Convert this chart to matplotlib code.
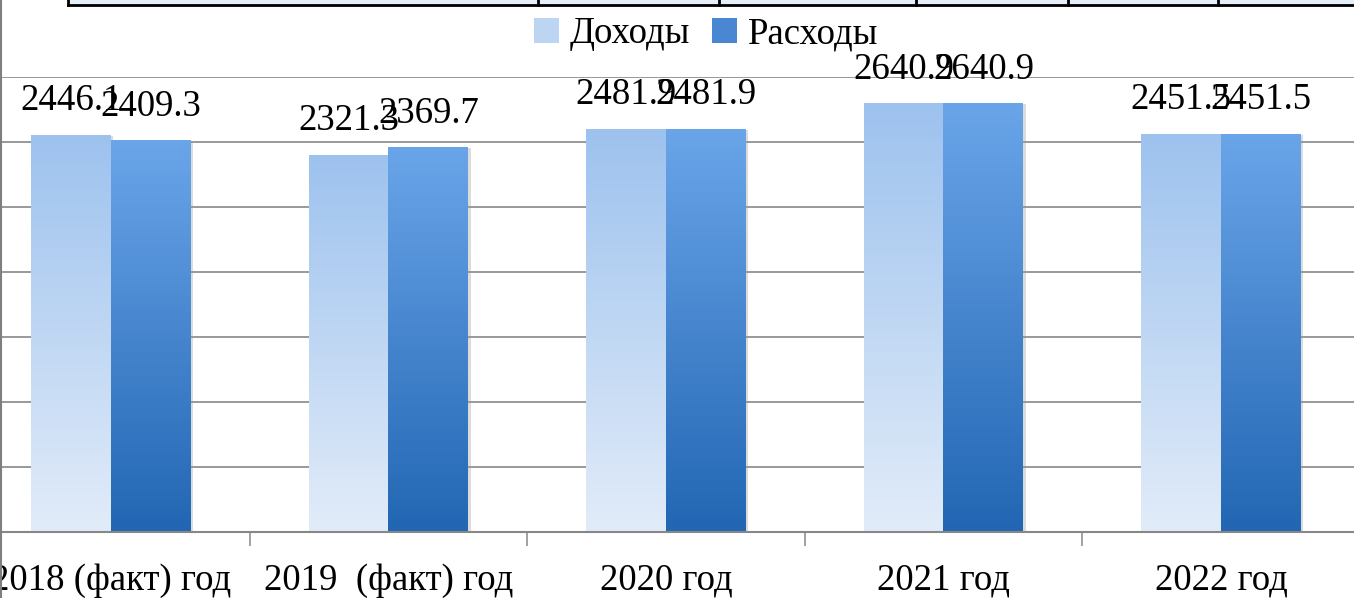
import numpy as np
import matplotlib
matplotlib.use("Agg")
import matplotlib.pyplot as plt
from matplotlib.colors import LinearSegmentedColormap
from matplotlib.patches import Patch
from matplotlib.lines import Line2D
import matplotlib.patheffects as pe

plt.rcParams['font.family'] = ['Liberation Serif', 'DejaVu Serif']

# === Data ===
categories = ['2018 (факт) год', '2019  (факт) год', '2020 год', '2021 год', '2022 год']
income = [2446.1, 2321.3, 2481.9, 2640.9, 2451.5]    # Доходы
expenses = [2409.3, 2369.7, 2481.9, 2640.9, 2451.5]  # Расходы
series_names = ['Доходы', 'Расходы']

# gradient colours (top, bottom)
grad_income = ('#9DC2EE', '#E2ECF9')
grad_expense = ('#6AA5E9', '#2266B3')
grid_col = '#878787'

W, H, DPI = 1354, 598, 100
fig = plt.figure(figsize=(W / DPI, H / DPI), dpi=DPI)
fig.patch.set_facecolor('white')

# plot area (partly cropped on both sides, like the screenshot)
ax = fig.add_axes([-27.75 / W, 66 / H, 1387.5 / W, 455 / H])
ax.set_facecolor('none')

x = np.arange(len(categories))
bw = 0.288

bars_inc = ax.bar(x - bw / 2, income, width=bw, color=grad_income[0], zorder=2,
                  path_effects=[pe.SimplePatchShadow(offset=(1.5, -1), shadow_rgbFace='#999999', alpha=0.35), pe.Normal()])
bars_exp = ax.bar(x + bw / 2, expenses, width=bw, color=grad_expense[0], zorder=2,
                  path_effects=[pe.SimplePatchShadow(offset=(1.5, -1), shadow_rgbFace='#999999', alpha=0.35), pe.Normal()])

# vertical gradient fill for every bar
grad = np.linspace(1, 0, 256).reshape(-1, 1)
for bars, (ctop, cbot) in [(bars_inc, grad_income), (bars_exp, grad_expense)]:
    cmap = LinearSegmentedColormap.from_list('g', [cbot, ctop])
    for b in bars:
        x0, w, h = b.get_x(), b.get_width(), b.get_height()
        im = ax.imshow(grad, extent=[x0, x0 + w, 0, h], aspect='auto', cmap=cmap,
                       vmin=0, vmax=1, zorder=2.5, origin='upper')
        im.set_clip_path(b)

# value labels
for bars, vals in [(bars_inc, income), (bars_exp, expenses)]:
    for b, v in zip(bars, vals):
        ax.annotate(f'{v:.1f}', (b.get_x() + b.get_width() / 2, v),
                    xytext=(0, 17.5), textcoords='offset points',
                    ha='center', va='baseline', fontsize=26.5, zorder=5)

# category labels
for i, c in enumerate(categories):
    ax.annotate(c, (i, 0), xytext=(0, -41.5), textcoords='offset points',
                ha='center', va='baseline', fontsize=26.5, annotation_clip=False)

# axes styling
ax.set_xlim(-0.5, len(categories) - 0.5)
ax.set_ylim(0, 2800)
ax.set_yticks(np.arange(0, 2801, 400))
ax.yaxis.grid(True, color=grid_col, linewidth=1.2)
ax.set_axisbelow(True)
ax.tick_params(axis='y', left=False, labelleft=False)
ax.set_xticks(np.arange(-0.5, len(categories), 1.0))
ax.tick_params(axis='x', direction='out', length=10, width=1.1, color=grid_col, labelbottom=False)
for s in ['top', 'right', 'left']:
    ax.spines[s].set_visible(False)
ax.spines['bottom'].set_color(grid_col)
ax.spines['bottom'].set_linewidth(1.5)

# legend
handles = [Patch(facecolor='#BCD5F3', edgecolor='none'),
           Patch(facecolor='#4A87D2', edgecolor='none')]
fig.legend(handles, series_names, loc='center', bbox_to_anchor=(706 / W, 1 - 34 / H),
           ncol=2, frameon=False, fontsize=26.5, handlelength=0.68, handleheight=0.68,
           handletextpad=0.3, columnspacing=0.6, borderpad=0)

# surrounding page pieces: left frame line and table border at the top
fig.add_artist(Line2D([1 / W, 1 / W], [0, 1], color='#7F7F7F', linewidth=1.5))
fig.patches.append(plt.Rectangle((68 / W, 1 - 4 / H), 1, 4 / H, transform=fig.transFigure,
                                 facecolor='#E6EEF8', edgecolor='none'))
fig.add_artist(Line2D([68 / W, 1], [1 - 4.5 / H, 1 - 4.5 / H], color='black', linewidth=2))
for xv in [68, 538, 719, 916, 1068, 1218]:
    fig.add_artist(Line2D([xv / W, xv / W], [1 - 4.5 / H, 1], color='black', linewidth=2))

fig.savefig('out.png', dpi=DPI)
